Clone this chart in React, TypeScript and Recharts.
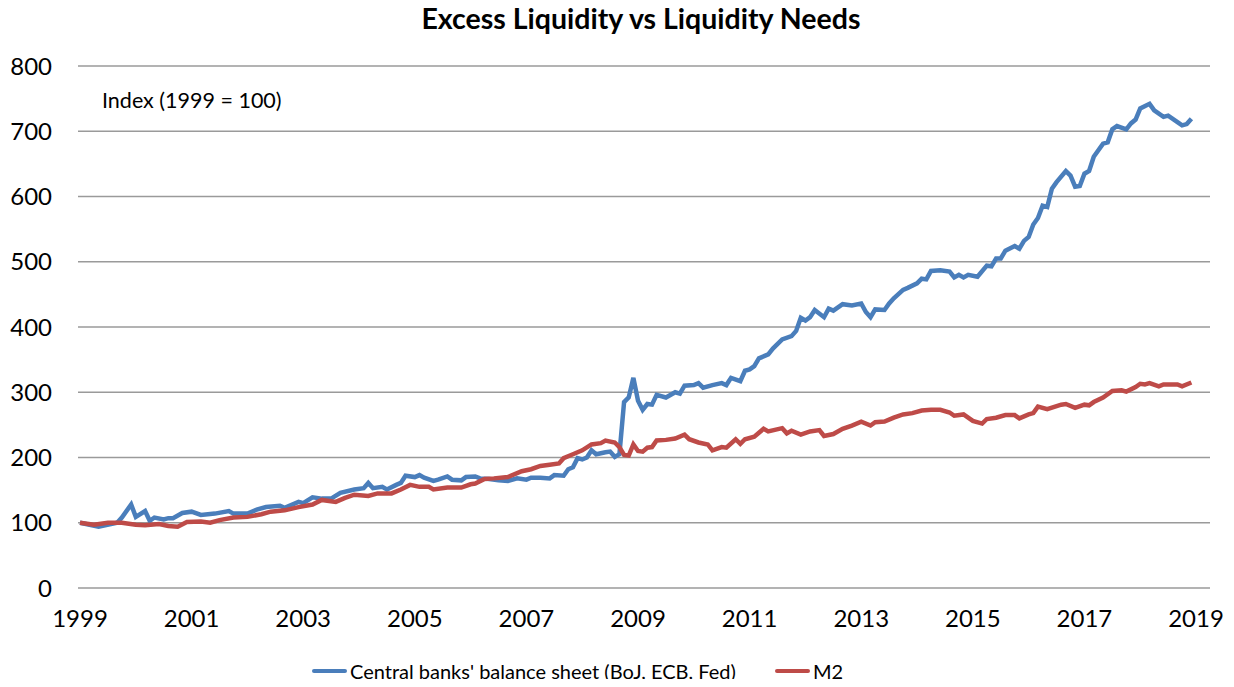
import { LineChart, Line, XAxis, YAxis, CartesianGrid } from "recharts";

const FONT = "Lato, 'Open Sans', sans-serif";

// x positions are months since Jan 1999
const cbMonths = [
  0, 4, 8, 9, 11,
  12, 14, 15, 16, 18, 19, 20, 22,
  24, 26, 29, 32, 33,
  36, 38, 40, 43, 44, 47,
  48, 50, 52, 54, 56, 59,
  61, 62, 63, 65, 66, 68, 69, 70,
  72, 73, 74, 76, 77, 79, 80, 82, 83,
  85, 86, 88, 90, 92, 94,
  96, 97, 99, 101, 102, 104, 105, 106, 107,
  108, 109, 110, 111, 113, 114, 115, 116, 117, 118, 119,
  120, 121, 122, 123, 124, 126, 128, 129, 130,
  132, 133, 134, 136, 138, 139, 140, 142, 143,
  144, 145, 146, 148, 149, 151, 153, 154, 155,
  156, 157, 158, 160, 161, 162, 164, 166,
  168, 169, 170, 171, 173, 174, 175, 177, 178,
  180, 181, 182, 183, 185, 187, 188, 189, 190, 191,
  193, 195, 196, 197, 198, 199, 201, 202, 203,
  204, 205, 206, 207, 208, 209, 210, 212, 213, 214, 215,
  216, 217, 218, 220, 221, 222, 223, 225, 226, 227,
  228, 230, 231, 233, 234, 236, 237, 238, 239,
];
const cbValues = [
  100, 94, 100, 108, 128,
  109, 118, 103, 108, 105, 107, 107, 115,
  117, 112, 114, 118, 114,
  114, 120, 124, 126, 123, 132,
  130, 139, 137, 137, 146, 151,
  153, 161, 153, 155, 151, 158, 161, 172,
  170, 173, 169, 164, 166, 171, 166, 165, 170,
  171, 168, 167, 165, 164, 168,
  166, 169, 169, 168, 173, 172, 182, 185, 199,
  197, 200, 211, 205, 208, 209, 201, 205, 285, 292, 322,
  287, 273, 282, 281, 296, 292, 300, 298, 310,
  311, 314, 307, 311, 314, 311, 322, 317, 333,
  335, 340, 352, 358, 367, 381, 386, 394, 414,
  410, 415, 426, 415, 428, 425, 435, 433,
  436, 423, 415, 427, 426, 436, 444, 457, 460,
  467, 474, 473, 486, 487, 485, 476, 480, 476, 480,
  477, 494, 493, 505, 505, 517, 524, 520, 532,
  538, 557, 567, 586, 584, 612, 622, 639, 632, 615, 616,
  635, 639, 661, 681, 683, 703, 708, 703, 712, 718,
  735, 742, 732, 722, 724, 714, 709, 711, 719,
];

const m2Months = [
  0, 3, 6, 9,
  12, 14, 17, 19, 21, 23,
  26, 28, 30, 33,
  36, 39, 41, 44, 47,
  50, 52, 55, 57, 59,
  62, 64, 67, 69, 71,
  73, 75, 76, 79, 82,
  84, 85, 87, 89, 92, 95,
  97, 99, 101, 103, 104, 106,
  108, 110, 112, 113, 115, 116, 117, 118, 119,
  120, 121, 122, 123, 124, 126, 128, 130, 131,
  133, 135, 136, 138, 139, 141, 142, 143,
  145, 146, 147, 148, 151, 152, 153, 155,
  157, 159, 160, 162, 164, 166,
  168, 170, 171, 173, 175, 177, 179,
  181, 183, 185, 187, 188, 190,
  192, 194, 195, 197, 199, 201, 202,
  204, 205, 206, 208, 211, 212, 214,
  216, 217, 218, 220, 222, 224, 225, 227,
  228, 229, 230, 232, 233, 236, 237, 239,
];
const m2Values = [
  100, 97, 100, 100,
  97, 96, 98, 95, 94, 101,
  102, 100, 104, 108,
  109, 113, 117, 119, 124,
  128, 135, 132, 138, 143,
  141, 145, 145, 151, 158,
  155, 155, 151, 154, 154,
  159, 160, 167, 168, 170, 179,
  182, 187, 189, 191, 199, 205,
  211, 220, 222, 226, 223, 216, 204, 203, 220,
  210, 209, 215, 216, 226, 227, 229, 235, 228,
  223, 220, 211, 216, 215, 228, 221, 228,
  232, 238, 244, 240, 245, 237, 241, 235,
  240, 242, 233, 236, 244, 249,
  255, 249, 254, 255, 261, 266, 268,
  272, 273, 273, 269, 264, 266,
  256, 252, 259, 261, 265, 265, 260,
  266, 268, 278, 274, 281, 282, 276,
  281, 280, 285, 292, 302, 303, 301, 308,
  313, 312, 314, 309, 312, 312, 309, 315,
];

const yTicks = [0, 100, 200, 300, 400, 500, 600, 700, 800];
const yearTicks = [1999, 2001, 2003, 2005, 2007, 2009, 2011, 2013, 2015, 2017, 2019];

const cbData = cbMonths.map((m, i) => ({ m, v: cbValues[i] }));
const m2Data = m2Months.map((m, i) => ({ m, v: m2Values[i] }));

const BLUE = "#4A7EBB";
const RED = "#BE4B48";

export default function App() {
  return (
    <div
      style={{
        position: "relative",
        width: 1218,
        height: 671,
        background: "#fff",
        fontFamily: FONT,
        color: "#000",
      }}
    >
      <div
        style={{
          position: "absolute",
          top: -4,
          left: 24,
          width: 1218,
          textAlign: "center",
          fontWeight: 700,
          fontSize: 28.5,
          lineHeight: "28px",
        }}
      >
        Excess Liquidity vs Liquidity Needs
      </div>
      <div
        style={{
          position: "absolute",
          top: 80,
          left: 94,
          fontSize: 21.5,
          lineHeight: "24px",
          zIndex: 2,
        }}
      >
        Index (1999 = 100)
      </div>

      <LineChart
        width={1218}
        height={671}
        margin={{ top: 58, right: 16, bottom: 33, left: 0 }}
      >
        <CartesianGrid vertical={false} stroke="#9a9a9a" strokeWidth={1.5} />
        <XAxis
          type="number"
          dataKey="m"
          domain={[-0.43, 243]}
          ticks={yearTicks.map((y) => (y - 1999) * 12)}
          tickFormatter={(m) => String(1999 + Math.round(m / 12))}
          interval={0}
          axisLine={false}
          tickLine={false}
          tickSize={0}
          tickMargin={22}
          height={58}
          tick={{ fill: "#000", fontSize: 24, fontFamily: FONT }}
        />
        <YAxis
          type="number"
          domain={[0, 800]}
          ticks={yTicks}
          interval={0}
          axisLine={false}
          tickLine={false}
          tickSize={0}
          tickMargin={26}
          width={70}
          tick={{ fill: "#000", fontSize: 24, fontFamily: FONT }}
        />
        <Line
          data={cbData}
          dataKey="v"
          type="linear"
          stroke={BLUE}
          strokeWidth={4.5}
          dot={false}
          isAnimationActive={false}
        />
        <Line
          data={m2Data}
          dataKey="v"
          type="linear"
          stroke={RED}
          strokeWidth={4.5}
          dot={false}
          isAnimationActive={false}
        />
      </LineChart>

      <div style={{ position: "absolute", top: 651, left: 304, display: "flex", alignItems: "center", fontSize: 20, lineHeight: "24px" }}>
        <span style={{ display: "inline-block", width: 35, height: 4, background: BLUE, borderRadius: 2, marginRight: 3 }} />
        <span>Central banks' balance sheet (BoJ, ECB, Fed)</span>
      </div>
      <div style={{ position: "absolute", top: 651, left: 767, display: "flex", alignItems: "center", fontSize: 20, lineHeight: "24px" }}>
        <span style={{ display: "inline-block", width: 35, height: 4, background: RED, borderRadius: 2, marginRight: 3 }} />
        <span>M2</span>
      </div>
    </div>
  );
}
